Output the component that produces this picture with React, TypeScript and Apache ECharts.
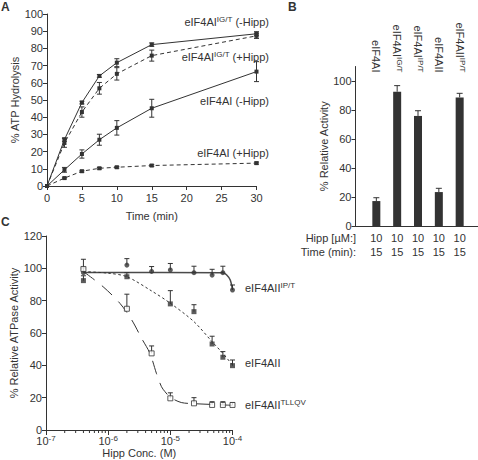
import React, { useEffect, useRef } from 'react';
import * as echarts from 'echarts';

const FONT = '"Liberation Sans", Arial, Helvetica, sans-serif';
const INK = '#333333';

// ---------- Panel A: ATP hydrolysis time course ----------
const timeMin = [0, 2.5, 5, 7.5, 10, 15, 30];
const igtNoHipp = [0, 27, 48.5, 64, 71.7, 82.2, 88.5];
const igtNoHippErr = [0, 1, 0.8, 0.8, 2.3, 1, 1.2];
const igtHipp = [0, 25, 43, 56.8, 65.2, 75.8, 87.3];
const igtHippErr = [0, 2.5, 3, 3.4, 3.6, 3.2, 1.5];
const wtNoHipp = [0, 9.4, 18.6, 26.9, 33.8, 45.2, 66.5];
const wtNoHippErr = [0, 1.4, 2.4, 3.2, 4.2, 5.2, 5.8];
const wtHipp = [0, 4.6, 8.6, 10.3, 10.9, 11.9, 13.3];
const wtHippErr = [0, 0.5, 0.5, 0.5, 0.5, 0.5, 0.6];

// ---------- Panel B: relative activity ----------
const enzymeBase = ['eIF4AI', 'eIF4AI', 'eIF4AI', 'eIF4AII', 'eIF4AII'];
const enzymeSup = ['', 'IG/T', 'IP/T', '', 'IP/T'];
const activity = [17.2, 92.6, 75.9, 23.4, 88.7];
const activityErr = [2.3, 4.2, 3.6, 2.6, 2.8];
const hippDoseUM = [10, 10, 10, 10, 10];
const incubationMin = [15, 15, 15, 15, 15];
const barPos = [1, 2, 3, 4, 5];
const activityTicks = [0, 20, 40, 60, 80, 100];

// ---------- Panel C: dose response ----------
const hippConc = [4e-7, 2e-6, 5e-6, 1e-5, 2.4e-5, 4.7e-5, 7e-5, 1e-4];
const iptAct = [97.3, 102, 98.1, 99, 97.3, 95.8, 97.3, 86.6];
const iptErr = [3, 4, 3, 4, 4, 3.6, 4, 3.1];
const wt2Act = [92.4, 94.8, null, 78, 73.2, 53.2, 45, 39.8];
const wt2Err = [3, 2.5, null, 8.2, 4.3, 4.8, 3.5, 3.5];
const tllqvAct = [99.6, 75, 47.4, 19.6, 16.5, 15.5, 15.5, 15.5];
const tllqvErr = [6, 9, 4.6, 3.4, 3.5, 2, 2, 1.5];

const iptFitX = [4e-7, 7e-5, 8e-5, 9.2e-5, 1e-4];
const iptFitY = [97.5, 97.3, 96, 92.8, 86.6];
const wt2FitX = [4e-7, 1e-6, 2e-6, 5e-6, 1e-5, 2.4e-5, 4.7e-5, 7e-5, 1e-4];
const wt2FitY = [98, 97, 94.8, 86, 78.4, 67, 54.6, 47.4, 40.2];
const tllqvFitX = [4e-7, 8.3e-7, 1.55e-6, 2.4e-6, 3.45e-6, 4.7e-6, 6e-6, 7.2e-6, 8.2e-6, 1e-5, 1.5e-5, 2.4e-5, 4.7e-5, 7e-5, 1e-4];
const tllqvFitY = [98, 88.6, 78.3, 68, 56.7, 47.4, 34.8, 26.8, 23.7, 20.2, 17, 16.3, 15.8, 15.5, 15.3];

const minorMultipliers = [2, 3, 4, 5, 6, 7, 8, 9];
const minorDecades = [1e-7, 1e-6, 1e-5];

const axisLine = { show: true, lineStyle: { color: INK, width: 1 } };
const tick = (len: number) => ({ show: true, length: len, inside: false, lineStyle: { color: INK, width: 1 } });
const labelStyle = { color: INK, fontSize: 11, fontFamily: FONT };
const nameStyle = { color: INK, fontSize: 11, fontFamily: FONT };

const axisRich = {
  b: { fontSize: 11, fontFamily: FONT, color: INK, lineHeight: 13 },
  n: { fontSize: 11, fontFamily: FONT, color: INK, lineHeight: 13 },
  s: { fontSize: 8, fontFamily: FONT, color: INK, lineHeight: 8, verticalAlign: 'top' },
};
const gRich = {
  n: { fontSize: 11, fontFamily: FONT, fill: INK, lineHeight: 13 },
  s: { fontSize: 8, fontFamily: FONT, fill: INK, lineHeight: 8, verticalAlign: 'top' },
};

function errorBar(capHalf: number, both: boolean) {
  return (_params: any, api: any) => {
    const x = api.value(0);
    const y = api.value(1);
    const e = api.value(2);
    if (!e) return null;
    const hi = api.coord([x, y + e]);
    const lo = both ? api.coord([x, y - e]) : api.coord([x, y]);
    const style = { stroke: INK, lineWidth: 1, fill: null };
    const children: any[] = [
      { type: 'line', shape: { x1: hi[0], y1: hi[1], x2: lo[0], y2: lo[1] }, style },
      { type: 'line', shape: { x1: hi[0] - capHalf, y1: hi[1], x2: hi[0] + capHalf, y2: hi[1] }, style },
    ];
    if (both) {
      children.push({ type: 'line', shape: { x1: lo[0] - capHalf, y1: lo[1], x2: lo[0] + capHalf, y2: lo[1] }, style });
    }
    return { type: 'group', children };
  };
}

function pairs(xs: number[], ys: (number | null)[]) {
  const out: number[][] = [];
  xs.forEach((x, i) => {
    if (ys[i] !== null && ys[i] !== undefined) out.push([x, ys[i] as number]);
  });
  return out;
}
function triples(xs: number[], ys: (number | null)[], es: (number | null)[]) {
  const out: number[][] = [];
  xs.forEach((x, i) => {
    if (ys[i] !== null && es[i] !== null) out.push([x, ys[i] as number, es[i] as number]);
  });
  return out;
}

function gText(text: string, x: number, y: number, align: string, extra: any = {}) {
  return {
    type: 'text',
    x,
    y,
    silent: true,
    style: {
      text,
      rich: gRich,
      fill: INK,
      font: `11px ${FONT}`,
      align,
      verticalAlign: 'middle',
      ...extra,
    },
  };
}

function buildOption(): any {
  const minorTicks = minorDecades.flatMap((d) => minorMultipliers.map((m) => m * d));
  const aErrData = [
    ...triples(timeMin, igtNoHipp, igtNoHippErr),
    ...triples(timeMin, igtHipp, igtHippErr),
    ...triples(timeMin, wtNoHipp, wtNoHippErr),
    ...triples(timeMin, wtHipp, wtHippErr),
  ];
  const cErrData = [
    ...triples(hippConc, iptAct, iptErr),
    ...triples(hippConc, wt2Act, wt2Err),
    ...triples(hippConc, tllqvAct, tllqvErr),
  ];
  const lineA = (ys: number[], dashed: boolean) => ({
    type: 'line',
    xAxisIndex: 0,
    yAxisIndex: 0,
    data: pairs(timeMin, ys),
    symbol: 'rect',
    symbolSize: 4,
    lineStyle: { color: INK, width: 1, type: dashed ? [4, 3] : 'solid' },
    itemStyle: { color: INK },
    z: 3,
    silent: true,
  });

  return {
    animation: false,
    backgroundColor: '#ffffff',
    textStyle: { fontFamily: FONT },
    grid: [
      { left: 47, top: 14, width: 209.5, height: 172, outerBoundsMode: 'none', containLabel: false },
      { left: 355.5, top: 66.5, width: 122.5, height: 159.5, outerBoundsMode: 'none', containLabel: false },
      { left: 46, top: 236, width: 186.5, height: 194, outerBoundsMode: 'none', containLabel: false },
    ],
    xAxis: [
      {
        gridIndex: 0, type: 'value', min: 0, max: 30, interval: 5,
        axisLine, axisTick: tick(4), splitLine: { show: false },
        axisLabel: { ...labelStyle, margin: 6 },
        name: 'Time (min)', nameLocation: 'middle', nameGap: 24, nameTextStyle: nameStyle,
      },
      {
        gridIndex: 1, type: 'value', min: 0, max: 5.88,
        axisLine, axisTick: { show: false }, splitLine: { show: false },
        axisLabel: {
          ...labelStyle, margin: 5, lineHeight: 14,
          customValues: barPos,
          formatter: (v: number) => {
            const i = Math.round(v) - 1;
            return `${hippDoseUM[i]}\n${incubationMin[i]}`;
          },
        },
      },
      {
        gridIndex: 1, type: 'value', position: 'top', offset: -6, min: 0, max: 5.88,
        axisLine: { show: false }, axisTick: { show: false }, splitLine: { show: false },
        axisLabel: {
          ...labelStyle, margin: 0, rotate: 90, rich: axisRich,
          customValues: barPos,
          formatter: (v: number) => {
            const i = Math.round(v) - 1;
            return enzymeSup[i] ? `{n|${enzymeBase[i]}}{s|${enzymeSup[i]}}` : `{n|${enzymeBase[i]}}`;
          },
        },
      },
      {
        gridIndex: 2, type: 'log', logBase: 10, min: 1e-7, max: 1e-4,
        axisLine, axisTick: tick(5), splitLine: { show: false }, minorTick: { show: false },
        axisLabel: {
          ...labelStyle, margin: 4, rich: axisRich,
          formatter: (v: number) => `{b|10}{s|${Math.round(Math.log10(v))}}`,
        },
        name: 'Hipp Conc. (M)', nameLocation: 'middle', nameGap: 17, nameTextStyle: nameStyle,
      },
    ],
    yAxis: [
      {
        gridIndex: 0, type: 'value', min: 0, max: 100, interval: 10,
        axisLine, axisTick: tick(4), splitLine: { show: false },
        axisLabel: { ...labelStyle, margin: 4 },
        name: '% ATP Hydrolysis', nameLocation: 'middle', nameGap: 23, nameTextStyle: nameStyle,
      },
      {
        gridIndex: 1, type: 'value', min: 0, max: 110,
        axisLine, splitLine: { show: false },
        axisTick: { ...tick(4), customValues: activityTicks },
        axisLabel: { ...labelStyle, margin: 4, customValues: activityTicks },
        name: '% Relative Activity', nameLocation: 'middle', nameGap: 24, nameTextStyle: nameStyle,
      },
      {
        gridIndex: 2, type: 'value', min: 0, max: 120, interval: 20,
        axisLine, axisTick: tick(4), splitLine: { show: false },
        axisLabel: { ...labelStyle, margin: 4 },
        name: '% Relative ATPase Activity', nameLocation: 'middle', nameGap: 26, nameTextStyle: nameStyle,
      },
    ],
    series: [
      // Panel A
      lineA(igtNoHipp, false),
      lineA(igtHipp, true),
      lineA(wtNoHipp, false),
      lineA(wtHipp, true),
      {
        type: 'custom', xAxisIndex: 0, yAxisIndex: 0, silent: true, z: 2,
        data: aErrData, renderItem: errorBar(2.5, true),
      },
      // Panel B
      {
        type: 'bar', xAxisIndex: 1, yAxisIndex: 1, silent: true,
        data: pairs(barPos, activity), barWidth: 8,
        itemStyle: { color: INK },
      },
      {
        type: 'custom', xAxisIndex: 1, yAxisIndex: 1, silent: true, z: 3,
        data: triples(barPos, activity, activityErr), renderItem: errorBar(3, false),
      },
      // Panel C fitted curves
      {
        type: 'line', xAxisIndex: 3, yAxisIndex: 2, silent: true, showSymbol: false, symbol: 'none',
        smooth: 0.3, data: pairs(iptFitX, iptFitY),
        lineStyle: { color: '#4a4a4a', width: 1.5 }, z: 2,
      },
      {
        type: 'line', xAxisIndex: 3, yAxisIndex: 2, silent: true, showSymbol: false, symbol: 'none',
        smooth: 0.3, data: pairs(wt2FitX, wt2FitY),
        lineStyle: { color: INK, width: 1, type: [2.5, 2.5] }, z: 2,
      },
      {
        type: 'line', xAxisIndex: 3, yAxisIndex: 2, silent: true, showSymbol: false, symbol: 'none',
        smooth: 0.3, data: pairs(tllqvFitX, tllqvFitY),
        lineStyle: { color: INK, width: 1, type: [14, 9] }, z: 2,
      },
      {
        type: 'custom', xAxisIndex: 3, yAxisIndex: 2, silent: true, z: 3,
        data: cErrData, renderItem: errorBar(2.5, false),
      },
      {
        type: 'custom', xAxisIndex: 3, yAxisIndex: 2, silent: true, z: 3,
        data: minorTicks.map((v) => [v, 0]),
        renderItem: (_p: any, api: any) => {
          const p = api.coord([api.value(0), 0]);
          return { type: 'line', shape: { x1: p[0], y1: p[1], x2: p[0], y2: p[1] + 3 }, style: { stroke: INK, lineWidth: 1 } };
        },
      },
      // Panel C points
      {
        type: 'scatter', xAxisIndex: 3, yAxisIndex: 2, silent: true, z: 5,
        data: pairs(hippConc, iptAct), symbol: 'circle', symbolSize: 5,
        itemStyle: { color: INK },
      },
      {
        type: 'scatter', xAxisIndex: 3, yAxisIndex: 2, silent: true, z: 5,
        data: pairs(hippConc, wt2Act), symbol: 'rect', symbolSize: 5,
        itemStyle: { color: INK },
      },
      {
        type: 'scatter', xAxisIndex: 3, yAxisIndex: 2, silent: true, z: 6,
        data: pairs(hippConc, tllqvAct), symbol: 'rect', symbolSize: 5,
        itemStyle: { color: '#ffffff', borderColor: INK, borderWidth: 1 },
      },
    ],
    graphic: [
      gText('A', 1, 7, 'left', { font: `bold 12px ${FONT}` }),
      gText('B', 288, 7, 'left', { font: `bold 12px ${FONT}` }),
      gText('C', 1, 222, 'left', { font: `bold 12px ${FONT}` }),
      gText('{n|eIF4AI}{s|IG/T}{n| (-Hipp)}', 269, 22, 'right'),
      gText('{n|eIF4AI}{s|IG/T}{n| (+Hipp)}', 269, 57, 'right'),
      gText('{n|eIF4AI (-Hipp)}', 269, 101, 'right'),
      gText('{n|eIF4AI (+Hipp)}', 269, 153, 'right'),
      gText('{n|eIF4AII}{s|IP/T}', 245, 288, 'left'),
      gText('{n|eIF4AII}', 245, 363, 'left'),
      gText('{n|eIF4AII}{s|TLLQV}', 245, 405, 'left'),
      gText('{n|Hipp [µM:]}', 356, 238, 'right'),
      gText('{n|Time (min):}', 356, 252, 'right'),
    ],
  };
}

export default function App() {
  const ref = useRef<HTMLDivElement>(null);
  useEffect(() => {
    if (!ref.current) return;
    const chart = echarts.init(ref.current, null, { renderer: 'svg' });
    chart.setOption(buildOption());
    return () => chart.dispose();
  }, []);
  return (
    <div
      ref={ref}
      style={{ position: 'absolute', left: 0, top: 0, width: 478, height: 460, background: '#ffffff' }}
    />
  );
}
